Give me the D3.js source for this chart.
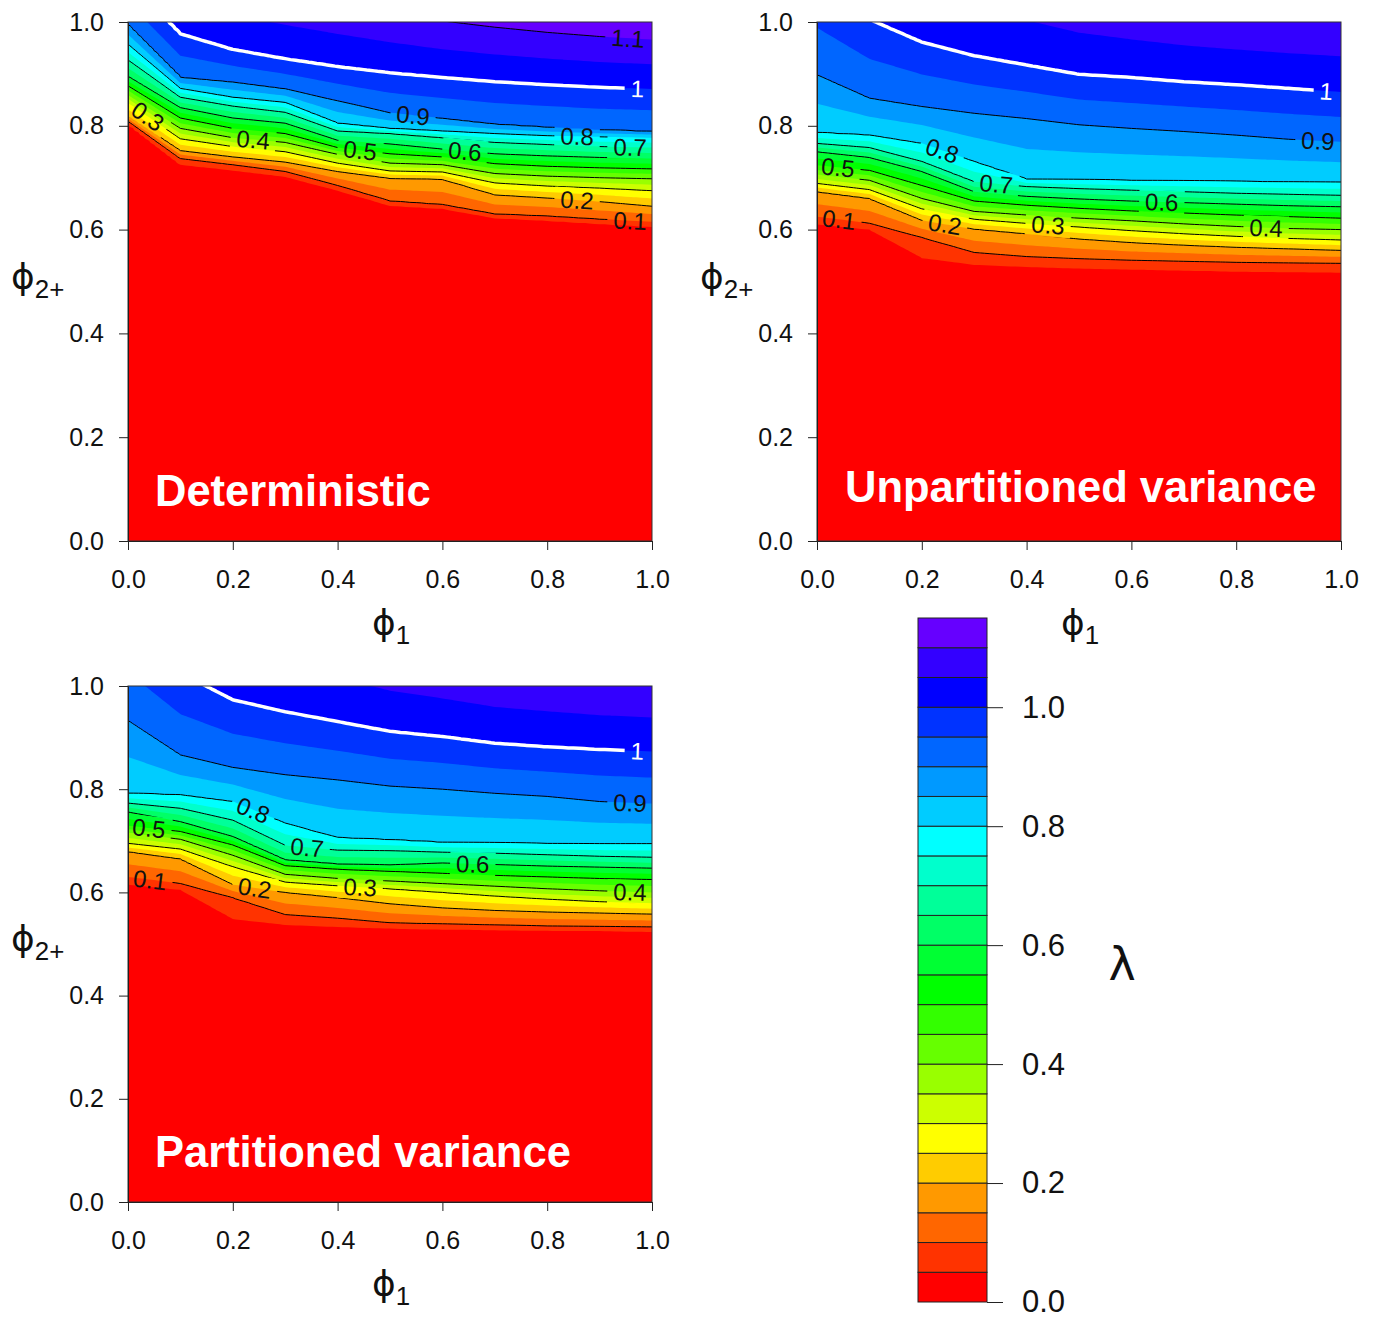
<!DOCTYPE html>
<html><head><meta charset="utf-8">
<script src="https://cdn.jsdelivr.net/npm/d3@7"></script>
<style>body{margin:0;background:#fff} svg{display:block}</style>
</head><body>
<svg id="chart" width="1374" height="1320"></svg>
<script>
// ---------------- DATA ----------------
// phi1 grid columns
const phi1Cols = [0, 0.1, 0.2, 0.3, 0.4, 0.5, 0.6, 0.7, 0.8, 0.9, 1.0];
// lambda levels whose phi2 position is read at each phi1 column
const levels = [0.05, 0.1, 0.2, 0.3, 0.4, 0.5, 0.6, 0.7, 0.8, 0.9, 1.0, 1.1, 1.2];

// Deterministic: phi2 position of each lambda level (rows) at each phi1 column
const detPos = [
  [0.803, 0.725, 0.714, 0.702, 0.675, 0.646, 0.640, 0.622, 0.617, 0.611, 0.605],
  [0.809, 0.737, 0.725, 0.712, 0.685, 0.655, 0.648, 0.630, 0.626, 0.620, 0.615],
  [0.818, 0.752, 0.740, 0.730, 0.712, 0.699, 0.697, 0.667, 0.661, 0.654, 0.645],
  [0.845, 0.775, 0.760, 0.750, 0.728, 0.713, 0.711, 0.690, 0.684, 0.680, 0.675],
  [0.859, 0.795, 0.777, 0.768, 0.745, 0.728, 0.725, 0.708, 0.703, 0.700, 0.698],
  [0.877, 0.815, 0.795, 0.785, 0.758, 0.746, 0.740, 0.727, 0.722, 0.719, 0.717],
  [0.895, 0.835, 0.815, 0.805, 0.772, 0.765, 0.755, 0.746, 0.742, 0.739, 0.737],
  [0.927, 0.855, 0.838, 0.826, 0.790, 0.785, 0.777, 0.768, 0.764, 0.760, 0.758],
  [0.957, 0.872, 0.855, 0.845, 0.805, 0.795, 0.790, 0.785, 0.781, 0.779, 0.777],
  [0.995, 0.893, 0.884, 0.871, 0.848, 0.825, 0.814, 0.803, 0.797, 0.792, 0.789],
  [1.080, 0.977, 0.947, 0.929, 0.914, 0.902, 0.893, 0.885, 0.879, 0.874, 0.871],
  [1.200, 1.120, 1.080, 1.060, 1.040, 1.020, 1.002, 0.990, 0.980, 0.972, 0.966],
  [1.350, 1.260, 1.220, 1.190, 1.160, 1.140, 1.120, 1.100, 1.090, 1.080, 1.070]
];
// Unpartitioned variance
const unpPos = [
  [0.610, 0.600, 0.545, 0.532, 0.528, 0.525, 0.523, 0.521, 0.519, 0.518, 0.517],
  [0.625, 0.612, 0.585, 0.556, 0.548, 0.544, 0.541, 0.539, 0.537, 0.536, 0.535],
  [0.673, 0.660, 0.618, 0.601, 0.592, 0.582, 0.575, 0.570, 0.566, 0.563, 0.560],
  [0.689, 0.677, 0.640, 0.620, 0.612, 0.605, 0.598, 0.592, 0.587, 0.583, 0.580],
  [0.706, 0.695, 0.660, 0.635, 0.628, 0.622, 0.617, 0.611, 0.606, 0.602, 0.600],
  [0.724, 0.714, 0.685, 0.655, 0.647, 0.641, 0.636, 0.632, 0.628, 0.625, 0.622],
  [0.750, 0.739, 0.712, 0.673, 0.664, 0.659, 0.655, 0.652, 0.649, 0.646, 0.644],
  [0.766, 0.758, 0.731, 0.692, 0.683, 0.679, 0.676, 0.673, 0.670, 0.668, 0.666],
  [0.787, 0.782, 0.766, 0.731, 0.697, 0.696, 0.695, 0.694, 0.693, 0.692, 0.691],
  [0.898, 0.853, 0.837, 0.824, 0.814, 0.802, 0.795, 0.789, 0.782, 0.774, 0.769],
  [1.080, 1.005, 0.961, 0.935, 0.917, 0.899, 0.893, 0.885, 0.879, 0.872, 0.865],
  [1.300, 1.220, 1.160, 1.120, 1.090, 1.060, 1.040, 1.025, 1.015, 1.008, 1.003],
  [1.450, 1.380, 1.300, 1.250, 1.210, 1.180, 1.160, 1.140, 1.130, 1.120, 1.110]
];
// Partitioned variance
const parPos = [
  [0.615, 0.605, 0.548, 0.537, 0.533, 0.530, 0.528, 0.527, 0.526, 0.525, 0.524],
  [0.630, 0.617, 0.590, 0.557, 0.550, 0.541, 0.539, 0.537, 0.535, 0.534, 0.533],
  [0.679, 0.665, 0.615, 0.600, 0.590, 0.578, 0.570, 0.565, 0.562, 0.560, 0.558],
  [0.695, 0.684, 0.650, 0.620, 0.613, 0.607, 0.600, 0.593, 0.587, 0.582, 0.579],
  [0.716, 0.703, 0.672, 0.635, 0.627, 0.622, 0.617, 0.612, 0.607, 0.603, 0.600],
  [0.729, 0.718, 0.692, 0.652, 0.645, 0.641, 0.637, 0.633, 0.630, 0.627, 0.625],
  [0.756, 0.737, 0.708, 0.663, 0.655, 0.653, 0.657, 0.654, 0.651, 0.649, 0.647],
  [0.773, 0.763, 0.740, 0.691, 0.682, 0.681, 0.678, 0.676, 0.673, 0.670, 0.668],
  [0.792, 0.789, 0.776, 0.734, 0.706, 0.702, 0.697, 0.696, 0.695, 0.694, 0.694],
  [0.933, 0.866, 0.842, 0.828, 0.818, 0.806, 0.800, 0.792, 0.786, 0.776, 0.772],
  [1.120, 1.025, 0.973, 0.950, 0.931, 0.912, 0.902, 0.889, 0.882, 0.877, 0.873],
  [1.350, 1.250, 1.180, 1.130, 1.100, 1.070, 1.050, 1.030, 1.020, 1.010, 1.005],
  [1.500, 1.400, 1.320, 1.270, 1.230, 1.200, 1.170, 1.150, 1.140, 1.130, 1.120]
];

// contour labels: [level, phi1 position of label]
const detLabels = [[1.1,0.954],[1.0,0.972],[0.9,0.544],[0.8,0.857],[0.7,0.958],[0.6,0.643],[0.5,0.443],[0.4,0.239],[0.3,0.038],[0.2,0.857],[0.1,0.958]];
const unpLabels = [[1.0,0.972],[0.9,0.956],[0.8,0.239],[0.7,0.342],[0.6,0.658],[0.5,0.040],[0.4,0.857],[0.3,0.441],[0.2,0.244],[0.1,0.042]];
const parLabels = [[1.0,0.972],[0.9,0.958],[0.8,0.239],[0.7,0.342],[0.6,0.658],[0.5,0.040],[0.4,0.958],[0.3,0.443],[0.2,0.242],[0.1,0.042]];

const panelTitles = ["Deterministic", "Unpartitioned variance", "Partitioned variance"];
// filled band breaks (lambda) and colours
const bandBreaks = [0,0.05,0.1,0.15,0.2,0.25,0.3,0.35,0.4,0.45,0.5,0.55,0.6,0.65,0.7,0.75,0.8,0.85,0.9,0.95,1.0,1.05,1.1,1.15];
const bandColors = ["#ff0000","#ff3300","#ff6600","#ff9900","#ffcc00","#ffff00","#ccff00","#99ff00","#66ff00","#33ff00","#00ff00","#00ff33","#00ff66","#00ff99","#00ffcc","#00ffff","#00ccff","#0099ff","#0066ff","#0033ff","#0000ff","#3300ff","#6600ff"];
const lineLevels = [0.1,0.2,0.3,0.4,0.5,0.6,0.7,0.8,0.9,1.0,1.1];
const axisTicks = [0,0.2,0.4,0.6,0.8,1.0];
const cbTicks = [0,0.2,0.4,0.6,0.8,1.0];

// ---------------- DRAWING ----------------
const svg = d3.select("#chart");
const defs = svg.append("defs");
const FONT = "'Liberation Sans', Arial, Helvetica, sans-serif";
const fmt = d3.format(".1f");

function positionsAt(P, x) {
  const f = Math.min(Math.max(x, 0), 1) * (phi1Cols.length - 1);
  const i = Math.min(Math.floor(f), phi1Cols.length - 2);
  const t = f - i;
  return P.map(r => r[i] + t * (r[i + 1] - r[i]));
}
function valueAt(pos, y) {
  const n = levels.length;
  if (y <= pos[0]) return Math.max(0, levels[0] - (pos[0] - y) * 2);
  for (let k = 0; k < n - 1; k++) {
    if (y <= pos[k + 1]) return levels[k] + (y - pos[k]) / (pos[k + 1] - pos[k]) * (levels[k + 1] - levels[k]);
  }
  return levels[n - 1] + (y - pos[n - 1]) / (pos[n - 1] - pos[n - 2]) * (levels[n - 1] - levels[n - 2]);
}
function levelPos(P, level, x) {
  const k = levels.findIndex(l => Math.abs(l - level) < 1e-9);
  return positionsAt(P, x)[k];
}

const panels = [
  {pos: detPos, labels: detLabels, title: panelTitles[0], x0: 128, x1: 652, y0: 22, y1: 541, tdx: 27, tdy: -35},
  {pos: unpPos, labels: unpLabels, title: panelTitles[1], x0: 817, x1: 1341, y0: 22, y1: 541, tdx: 28, tdy: -39},
  {pos: parPos, labels: parLabels, title: panelTitles[2], x0: 128, x1: 652, y0: 686, y1: 1202, tdx: 27, tdy: -35}
];

function phiLabel(g, x, y, sub, size) {
  const t = g.append("text").attr("x", x).attr("y", y)
    .attr("font-family", "'DejaVu Sans', sans-serif").attr("font-size", size).attr("fill", "#111");
  t.append("tspan").text("\u03D5");
  t.append("tspan").attr("dy", size * 0.25).attr("font-family", FONT).attr("font-size", size * 0.72).text(sub);
  return t;
}

panels.forEach((p, idx) => {
  const xS = d3.scaleLinear().domain([0, 1]).range([p.x0, p.x1]);
  const yS = d3.scaleLinear().domain([0, 1]).range([p.y1, p.y0]);
  const nx = 101, ny = 441, y0v = -0.05, dy = 0.0025;
  const vals = new Float64Array(nx * ny);
  for (let i = 0; i < nx; i++) {
    const pos = positionsAt(p.pos, i / (nx - 1));
    for (let j = 0; j < ny; j++) vals[j * nx + i] = valueAt(pos, y0v + j * dy);
  }
  const proj = d3.geoTransform({point(x, y) {
    this.stream.point(xS((x - 0.5) / (nx - 1)), yS(y0v + (y - 0.5) * dy));
  }});
  const path = d3.geoPath(proj);

  const clipId = "clip" + idx;
  defs.append("clipPath").attr("id", clipId).append("rect")
    .attr("x", p.x0).attr("y", p.y0).attr("width", p.x1 - p.x0).attr("height", p.y1 - p.y0);

  const g = svg.append("g").attr("clip-path", `url(#${clipId})`);
  g.append("rect").attr("x", p.x0).attr("y", p.y0).attr("width", p.x1 - p.x0).attr("height", p.y1 - p.y0)
    .attr("fill", bandColors[0]);
  const fills = d3.contours().size([nx, ny]).thresholds(bandBreaks.slice(1, -1))(vals);
  g.selectAll("path.band").data(fills).join("path").attr("class", "band")
    .attr("d", path).attr("fill", d => bandColors[Math.round(d.value / 0.05)]);

  const maskId = "mask" + idx;
  const mask = defs.append("mask").attr("id", maskId).attr("maskUnits", "userSpaceOnUse")
    .attr("x", 0).attr("y", 0).attr("width", 1374).attr("height", 1320);
  mask.append("rect").attr("x", 0).attr("y", 0).attr("width", 1374).attr("height", 1320).attr("fill", "#fff");

  const lineG = g.append("g").attr("mask", `url(#${maskId})`);
  const lines = d3.contours().size([nx, ny]).thresholds(lineLevels)(vals);
  lineG.selectAll("path").data(lines).join("path").attr("d", path).attr("fill", "none")
    .attr("stroke", d => Math.abs(d.value - 1) < 1e-9 ? "#fff" : "#000")
    .attr("stroke-width", d => Math.abs(d.value - 1) < 1e-9 ? 3.5 : 1)
    .attr("stroke-linejoin", "round");

  const labG = svg.append("g");
  p.labels.forEach(([lev, x]) => {
    const y = levelPos(p.pos, lev, x);
    const xa = Math.max(0, x - 0.02), xb = Math.min(1, x + 0.02);
    const ang = Math.atan2(yS(levelPos(p.pos, lev, xb)) - yS(levelPos(p.pos, lev, xa)), xS(xb) - xS(xa)) * 180 / Math.PI;
    const px = xS(x), py = yS(y);
    const isOne = Math.abs(lev - 1) < 1e-9;
    const t = labG.append("text").attr("transform", `translate(${px},${py}) rotate(${ang})`)
      .attr("text-anchor", "middle").attr("dy", "0.36em")
      .attr("font-family", FONT).attr("font-size", 24)
      .attr("fill", isOne ? "#fff" : "#111")
      .text(isOne ? "1" : String(lev));
    const tw = t.node().getComputedTextLength();
    let left = -tw / 2 - 6, right = tw / 2 + 6;
    if (px + right > p.x1 - 16) right += 30;
    if (px + left < p.x0 + 16) left -= 30;
    mask.append("rect").attr("x", left).attr("y", -12).attr("width", right - left).attr("height", 24)
      .attr("transform", `translate(${px},${py}) rotate(${ang})`).attr("fill", "#000");
  });

  svg.append("text").attr("x", p.x0 + p.tdx).attr("y", p.y1 + p.tdy)
    .attr("font-family", FONT).attr("font-weight", "bold").attr("font-size", 43.5)
    .attr("fill", "#fff").text(p.title);

  svg.append("rect").attr("x", p.x0).attr("y", p.y0).attr("width", p.x1 - p.x0).attr("height", p.y1 - p.y0)
    .attr("fill", "none").attr("stroke", "#333").attr("stroke-width", 1);

  const ax = svg.append("g").attr("transform", `translate(0,${p.y1})`)
    .call(d3.axisBottom(xS).tickValues(axisTicks).tickFormat(fmt).tickSize(9).tickSizeOuter(0).tickPadding(20));
  const ay = svg.append("g").attr("transform", `translate(${p.x0},0)`)
    .call(d3.axisLeft(yS).tickValues(axisTicks).tickFormat(fmt).tickSize(9).tickSizeOuter(0).tickPadding(15));
  [ax, ay].forEach(a => {
    a.selectAll("text").attr("font-family", FONT).attr("font-size", 25).attr("fill", "#111");
    a.selectAll("line,path").attr("stroke", "#222");
  });

  phiLabel(svg, (p.x0 + p.x1) / 2 - 18, p.y1 + 94, "1", 36);
  phiLabel(svg, p.x0 - 117, (p.y0 + p.y1) / 2 + 7, "2+", 36);
});

// ---------------- COLOUR BAR ----------------
const cb = {x0: 918, x1: 987, y0: 618, y1: 1302};
const cS = d3.scaleLinear().domain([0, 1.15]).range([cb.y1, cb.y0]);
const cbG = svg.append("g");
cbG.selectAll("rect").data(bandColors).join("rect")
  .attr("x", cb.x0).attr("width", cb.x1 - cb.x0)
  .attr("y", (d, i) => cS(bandBreaks[i + 1])).attr("height", (d, i) => cS(bandBreaks[i]) - cS(bandBreaks[i + 1]))
  .attr("fill", d => d).attr("stroke", "#222").attr("stroke-width", 1);
const cax = svg.append("g").attr("transform", `translate(${cb.x1},0)`)
  .call(d3.axisRight(cS).tickValues(cbTicks).tickFormat(fmt).tickSize(16).tickSizeOuter(0).tickPadding(19));
cax.select(".domain").remove();
cax.selectAll("text").attr("font-family", FONT).attr("font-size", 31).attr("fill", "#111");
cax.selectAll("line").attr("stroke", "#222");
svg.append("text").attr("x", 1122).attr("y", 980).attr("text-anchor", "middle")
  .attr("font-family", "'DejaVu Sans', sans-serif").attr("font-size", 46).attr("fill", "#111").text("\u03BB");
</script>
</body></html>
